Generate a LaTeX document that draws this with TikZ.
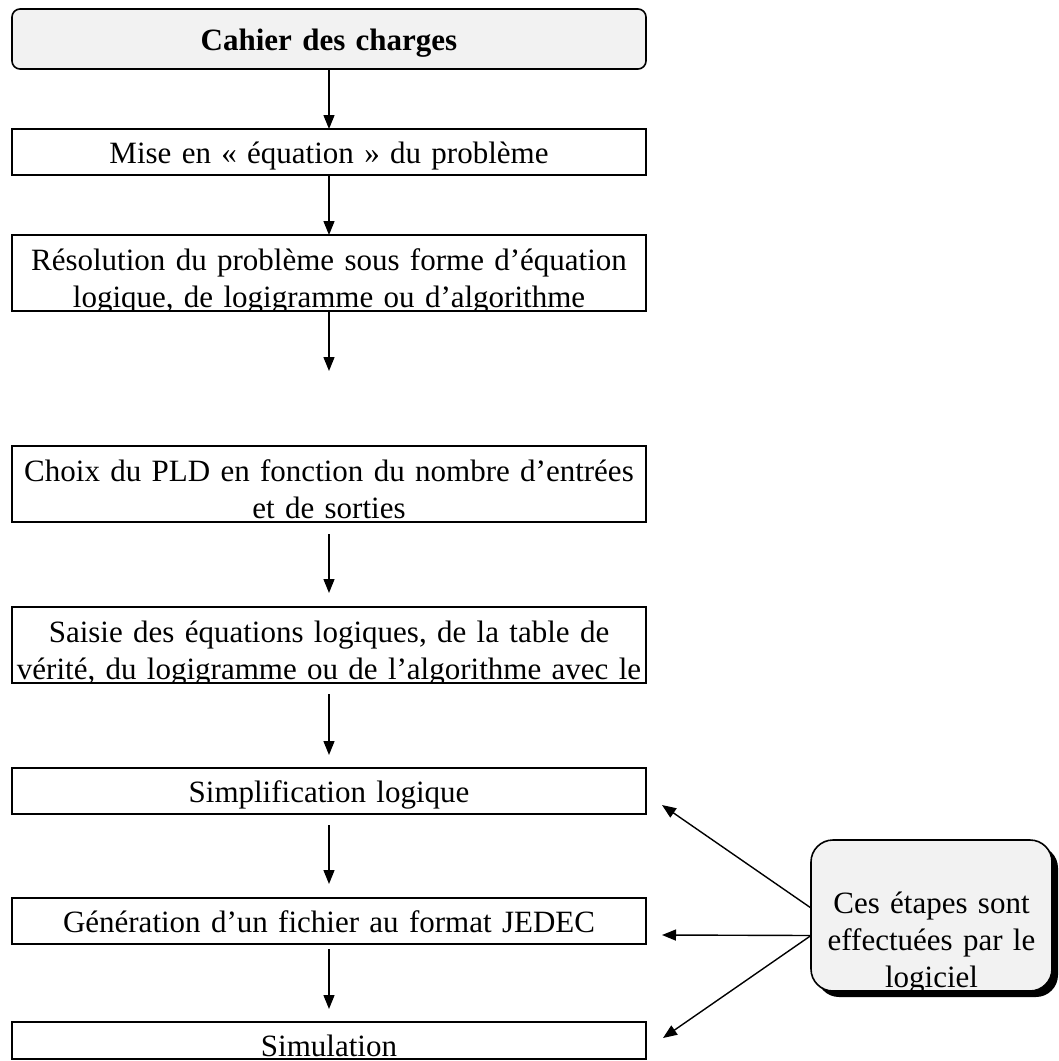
\documentclass[tikz,border=0pt]{standalone}
\usepackage{fontspec}
\setmainfont{Liberation Serif}
\usetikzlibrary{arrows.meta,shadows}

\tikzset{
  largeur/.initial=632pt,
  texte/.style={font=\fontsize{31}{37}\selectfont, text width=\pgfkeysvalueof{/tikz/largeur}, align=center, inner sep=0pt},
  etape/.style n args={4}{draw, line width=1.6pt, minimum height=#1, inner sep=0pt, outer sep=0pt, anchor=north,
    path picture={\node[texte, anchor=base] (#3) at ([yshift=-#2]path picture bounding box.north) {#4};}},
  boite/.style n args={4}{etape={#1}{#2}{#3}{#4}, minimum width=634pt},
  fleche/.style={line width=1.4pt, -{Triangle[length=14pt, width=11pt]}},
}

\begin{document}
\begin{tikzpicture}[x=1pt, y=-1pt]
	%%%%% START %%%%%
	\useasboundingbox (0,0) rectangle (1059,1061);
	
	\node[boite={60pt}{41pt}{t-cdc}{\textbf{Cahier des charges}}, rounded corners=8pt, fill=black!5] (cdc) at (329,9) {};
	\node[boite={46pt}{34pt}{t-mise}{Mise en « équation » du problème}] (mise) at (329,129) {};
	\node[boite={76pt}{35pt}{t-reso}{Résolution du problème sous forme d’équation\\logique, de logigramme ou d’algorithme}] (reso) at (329,235) {};
	\node[boite={76pt}{35pt}{t-choix}{Choix du PLD en fonction du nombre d’entrées\\et de sorties}] (choix) at (329,446) {};
	\node[boite={76pt}{35pt}{t-saisie}{Saisie des équations logiques, de la table de\\vérité, du logigramme ou de l’algorithme avec le}] (saisie) at (329,607) {};
	\node[boite={46pt}{34pt}{t-simp}{Simplification logique}] (simp) at (329,768) {};
	\node[boite={46pt}{34pt}{t-gen}{Génération d’un fichier au format JEDEC}] (gen) at (329,898) {};
	\node[boite={37pt}{34pt}{t-simu}{Simulation}] (simu) at (329,1022) {};
	
	\node[etape={151pt}{73pt}{t-log}{Ces étapes sont\\effectuées par le\\logiciel}, largeur=235pt, minimum width=241pt,
	      rounded corners=22pt, fill=black!5,
	      drop shadow={shadow xshift=6pt, shadow yshift=-6pt, fill=black, opacity=1}] (log) at (931.5,840) {};
	
	% fleches verticales
	\coordinate (fin) at (329,371);
	\draw[fleche] (cdc) -- (mise);
	\draw[fleche] (mise) -- (reso);
	\draw[fleche] (reso) -- (fin);
	\draw[fleche, shorten <=12pt, shorten >=14pt] (choix) -- (saisie);
	\draw[fleche, shorten <=11pt, shorten >=13pt] (saisie) -- (simp);
	\draw[fleche, shorten <=11pt, shorten >=14pt] (simp) -- (gen);
	\draw[fleche, shorten <=5pt, shorten >=13pt] (gen) -- (simu);
	
	% fleches du logiciel
	\coordinate (d1) at ([yshift=7.5pt]log.west);
	\coordinate (d2) at ([yshift=-20pt]log.west);
	\coordinate (a1) at (662,805);
	\coordinate (a2) at (662,935);
	\coordinate (a3) at (663,1038);
	\draw[fleche] (d1) -- (a1);
	\draw[fleche] (d2) -- (a2);
	\draw[fleche] (d2) -- (a3);
	%%%%% END %%%%%
\end{tikzpicture}
\end{document}
